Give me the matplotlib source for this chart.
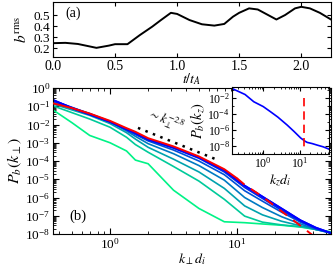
import numpy as np
import matplotlib
matplotlib.use("Agg")
import matplotlib.pyplot as plt
from matplotlib.ticker import LogLocator, NullFormatter, FixedLocator

plt.rcParams['font.family'] = ['Liberation Serif', 'DejaVu Serif']
plt.rcParams['mathtext.fontset'] = 'stix'
plt.rcParams['xtick.direction'] = 'in'
plt.rcParams['ytick.direction'] = 'in'
plt.rcParams['xtick.top'] = True
plt.rcParams['ytick.right'] = True

# ---- panel (a): b_rms vs time ----
t_vals = [0.0, 0.1, 0.2, 0.35, 0.45, 0.5, 0.6, 0.7, 0.8, 0.87, 0.95, 1.0, 1.1, 1.2, 1.3,
          1.38, 1.45, 1.5, 1.58, 1.65, 1.75, 1.8, 1.87, 1.95, 2.0, 2.07, 2.15, 2.24]
brms_vals = [0.247, 0.25, 0.24, 0.205, 0.225, 0.238, 0.238, 0.32, 0.396, 0.455, 0.52, 0.51,
             0.455, 0.417, 0.405, 0.42, 0.485, 0.52, 0.56, 0.55, 0.49, 0.46, 0.50, 0.56,
             0.574, 0.56, 0.52, 0.46]

# ---- panel (b): perpendicular spectra, log10 values ----
logk_perp = [-0.46, -0.3, -0.16, 0.0, 0.13, 0.2, 0.3, 0.5, 0.7, 0.9, 1.06, 1.2, 1.35, 1.5, 1.62, 1.74]
logP_series = [
    [-1.15, -1.9, -2.6, -3.0, -3.45, -3.95, -4.15, -5.6, -6.6, -7.33, -7.38, -7.45, -7.52, -7.62, -7.75, -7.88],
    [-0.95, -1.35, -1.7, -2.15, -2.7, -3.1, -3.52, -4.3, -5.1, -6.1, -7.02, -7.35, -7.5, -7.6, -7.75, -7.9],
    [-0.85, -1.2, -1.5, -1.95, -2.45, -2.8, -3.25, -3.9, -4.6, -5.5, -6.46, -6.95, -7.3, -7.55, -7.75, -7.95],
    [-0.75, -1.12, -1.42, -1.87, -2.35, -2.65, -3.05, -3.6, -4.25, -5.05, -6.0, -6.55, -7.05, -7.45, -7.75, -7.95],
    [-0.7, -1.08, -1.4, -1.83, -2.3, -2.55, -2.9, -3.4, -4.0, -4.75, -5.63, -6.2, -6.8, -7.35, -7.7, -7.95],
    [-0.66, -1.06, -1.42, -1.85, -2.28, -2.5, -2.85, -3.3, -3.85, -4.6, -5.45, -6.05, -6.7, -7.3, -7.7, -7.95],
    [-0.62, -1.1, -1.45, -1.85, -2.25, -2.45, -2.8, -3.25, -3.8, -4.5, -5.35, -5.95, -6.6, -7.25, -7.65, -7.95],
]
logk_red = [-0.46, -0.3, -0.16, 0.0, 0.13, 0.2, 0.3, 0.5, 0.7, 0.9, 1.0]
logP_red = [-0.82, -1.1, -1.4, -1.8, -2.2, -2.4, -2.75, -3.2, -3.75, -4.45, -4.95]
logk_red_dash = [1.0, 1.06, 1.2, 1.35, 1.5, 1.62]
logP_red_dash = [-4.95, -5.3, -5.95, -6.75, -7.55, -8.2]

# power-law guide
guide_k = [1.66, 6.9]
guide_slope = -2.8
guide_amp = 10**-1.57

# ---- inset: parallel spectrum ----
logkz = [-0.86, -0.5, -0.26, 0.0, 0.2, 0.4, 0.66, 0.85, 1.03, 1.15, 1.21, 1.35, 1.48, 1.65, 1.8]
logPz = [-0.85, -1.6, -2.5, -3.1, -3.74, -4.4, -5.4, -6.2, -7.0, -7.4, -7.55, -7.7, -7.88, -8.1, -8.37]
kz_cut = 13.1
cut_range = [1e-2, 10**-8.6]

W, H = 335, 268
fig = plt.figure(figsize=(W/100, H/100), dpi=100)

# panel (a)
axa = fig.add_axes([53/W, 1-57.3/H, 278/W, 55.6/H])
axa.plot(t_vals, brms_vals, color='black', lw=1.4)
axa.set_xlim(0, 2.24)
axa.set_ylim(0.12, 0.62)
axa.set_yticks([0.2, 0.3, 0.4, 0.5])
axa.set_xticks([0.0, 0.5, 1.0, 1.5, 2.0])
axa.tick_params(axis='x', labelsize=10, length=3, pad=2)
axa.tick_params(axis='y', labelsize=9.5, length=3, pad=2)
axa.set_xlabel(r'$t/t_A$', fontsize=10, labelpad=-1)
axa.set_ylabel(r'$b^{\mathrm{rms}}$', fontsize=11, labelpad=3)
axa.text(0.045, 0.72, '(a)', transform=axa.transAxes, fontsize=10)

# panel (b)
axb = fig.add_axes([53/W, 1-234/H, 278/W, 146/H])
cols = plt.cm.winter_r(np.linspace(0.05, 1.0, len(logP_series)))
kp = 10**np.array(logk_perp)
for c, lp in zip(cols, logP_series):
    axb.plot(kp, 10**np.array(lp), color=c, lw=1.2)
axb.plot(10**np.array(logk_red), 10**np.array(logP_red), color='red', lw=1.4, zorder=3)
axb.plot(10**np.array(logk_red_dash), 10**np.array(logP_red_dash), color='red', lw=1.4,
         ls=(0, (5, 4)), zorder=3)
axb.plot(10**np.array(logk_perp), 10**np.array(logP_series[-1]), color='blue', lw=1.4, zorder=2.5)
gk = np.array(guide_k)
axb.plot(gk, guide_amp*gk**guide_slope, color='black', ls=(0, (1, 2.2)), lw=1.8)
axb.text(2.75, 10**-1.75, r'$\sim k_{\perp}^{-2.8}$', fontsize=9, rotation=-22,
         rotation_mode='anchor', ha='center', va='center')
axb.set_xscale('log')
axb.set_yscale('log')
axb.set_xlim(10**-0.449, 10**1.74)
axb.set_ylim(1e-8, 1.0)
axb.yaxis.set_major_locator(LogLocator(base=10, numticks=20))
axb.yaxis.set_minor_locator(LogLocator(base=10, subs=np.arange(2, 10), numticks=20))
axb.yaxis.set_minor_formatter(NullFormatter())
axb.xaxis.set_minor_locator(LogLocator(base=10, subs=np.arange(2, 10), numticks=20))
axb.xaxis.set_minor_formatter(NullFormatter())
axb.tick_params(labelsize=9.5, length=4, pad=2)
axb.tick_params(which='minor', length=2)
axb.set_xlabel(r'$k_\perp d_i$', fontsize=10, labelpad=0)
axb.set_ylabel(r'$P_b(k_\perp)$', fontsize=11.5, labelpad=1)
axb.text(0.06, 0.1, '(b)', transform=axb.transAxes, fontsize=10.5)

# inset
axi = fig.add_axes([232/W, 1-154.3/H, 96.6/W, 67.6/H])
axi.plot(10**np.array(logkz), 10**np.array(logPz), color='blue', lw=1.2)
axi.plot([kz_cut, kz_cut], cut_range, color='red', lw=1.2, ls=(0, (5, 3)))
axi.set_xscale('log')
axi.set_yscale('log')
axi.set_xlim(10**-0.86, 10**1.8)
axi.set_ylim(10**-9.03, 10**-0.63)
axi.yaxis.set_major_locator(FixedLocator([1e-8, 1e-6, 1e-4, 1e-2]))
axi.yaxis.set_minor_locator(LogLocator(base=10, subs=[1.0], numticks=20))
axi.yaxis.set_minor_formatter(NullFormatter())
axi.xaxis.set_minor_locator(LogLocator(base=10, subs=np.arange(2, 10), numticks=20))
axi.xaxis.set_minor_formatter(NullFormatter())
axi.tick_params(labelsize=8.5, length=3, pad=1.5)
axi.tick_params(which='minor', length=1.5)
axi.set_xlabel(r'$k_z d_i$', fontsize=10, labelpad=1)
axi.set_ylabel(r'$P_b(k_z)$', fontsize=10.5, labelpad=1)

fig.savefig('out.png', dpi=100)
